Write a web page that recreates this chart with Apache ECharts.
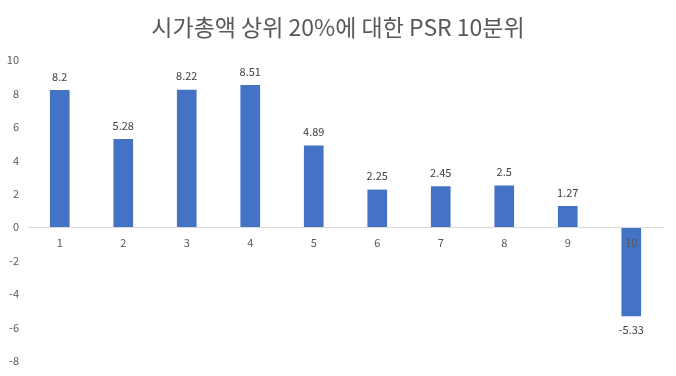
<!DOCTYPE html>
<html>
<head>
<meta charset="utf-8">
<script src="https://cdn.jsdelivr.net/npm/echarts@6/dist/echarts.min.js"></script>
<style>
html, body { margin: 0; padding: 0; background: #fff; }
#chart { width: 676px; height: 376px; }
</style>
</head>
<body>
<div id="chart"></div>
<script>
var categories = ['1', '2', '3', '4', '5', '6', '7', '8', '9', '10'];
var psrValues = [8.2, 5.28, 8.22, 8.51, 4.89, 2.25, 2.45, 2.5, 1.27, -5.33];
var yTicks = { min: -8, max: 10, interval: 2 };

var font = '"Noto Sans CJK KR", "Noto Sans", sans-serif';
var gridBottom = 15;

var myChart = echarts.init(document.getElementById('chart'));
var option = {
    animation: false,
    title: {
        text: '시가총액 상위 20%에 대한 PSR 10분위',
        left: 'center',
        top: 11,
        textStyle: { color: '#595959', fontSize: 23, fontWeight: 'normal', fontFamily: font }
    },
    grid: { left: 28, right: 13, top: 60, bottom: gridBottom, containLabel: false, outerBoundsMode: 'none' },
    xAxis: {
        type: 'category',
        data: categories,
        offset: 0,
        axisLine: { onZero: false, lineStyle: { color: '#d9d9d9' } },
        axisTick: { show: false },
        axisLabel: { color: '#595959', fontSize: 11, fontFamily: font, margin: 10 },
        z: 5
    },
    yAxis: {
        type: 'value',
        min: yTicks.min,
        max: yTicks.max,
        interval: yTicks.interval,
        splitLine: { show: false },
        axisLine: { show: false },
        axisTick: { show: false },
        axisLabel: { color: '#595959', fontSize: 11, fontFamily: font, margin: 9 }
    },
    series: [{
        type: 'bar',
        barWidth: '31%',
        z: 2,
        itemStyle: { color: '#4472C4' },
        label: {
            show: true,
            color: '#404040',
            fontSize: 11,
            fontFamily: font,
            distance: 8
        },
        data: psrValues.map(function (v) {
            return { value: v, label: { position: v < 0 ? 'bottom' : 'top' } };
        })
    }]
};
myChart.setOption(option);
// move the category axis up to the zero line
var zeroY = myChart.convertToPixel({ yAxisIndex: 0 }, 0);
var bottomY = myChart.getHeight() - gridBottom;
myChart.setOption({ xAxis: { offset: -(bottomY - zeroY) } });
</script>
</body>
</html>
